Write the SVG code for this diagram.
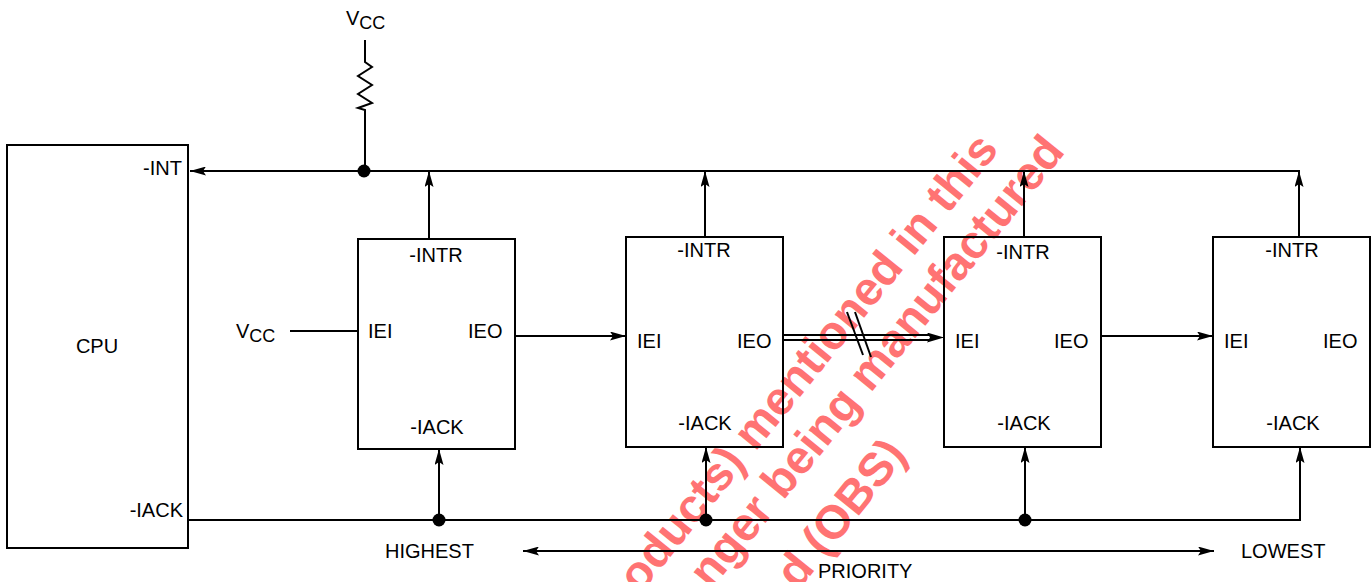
<svg xmlns="http://www.w3.org/2000/svg" width="1372" height="582" viewBox="0 0 1372 582">
<style>
.box{fill:none;stroke:#000;stroke-width:2}
.ln{fill:none;stroke:#000;stroke-width:2}
.t{font-family:"Liberation Sans",Arial,Helvetica,sans-serif;font-size:20px;fill:#000}
.sub{font-size:18px}
.wm{font-family:"Liberation Sans",Arial,Helvetica,sans-serif;font-weight:bold;font-size:47px;fill:#ff7373}
.dot{fill:#000}
</style>
<defs>
<marker id="ah" viewBox="0 0 16 9" refX="16" refY="4.5" markerWidth="16" markerHeight="9" markerUnits="userSpaceOnUse" orient="auto-start-reverse">
<path d="M0,0 L16,4.5 L0,9 L3,4.5 Z" fill="#000"/>
</marker>
<marker id="ahb" viewBox="0 0 17 10" refX="17" refY="5" markerWidth="17" markerHeight="10" markerUnits="userSpaceOnUse" orient="auto">
<path d="M0,0 L17,5 L0,10 L3,5 Z" fill="#000"/>
</marker>
</defs>
<rect width="1372" height="582" fill="#fff"/>
<g id="watermark">
<text class="wm" text-anchor="end" x="1000" y="150" transform="rotate(-51 1000 150)">oducts) mentioned in this</text>
<text class="wm" text-anchor="end" x="1066" y="152" transform="rotate(-51 1066 152)">nger being manufactured</text>
<text class="wm" text-anchor="end" x="908" y="455" transform="rotate(-51 908 455)">d (OBS)</text>
</g>
<g id="connectors">
<line class="ln" x1="1299" y1="171" x2="190" y2="171" marker-end="url(#ah)"/>
<line class="ln" x1="429" y1="239" x2="429" y2="171" marker-end="url(#ah)"/>
<line class="ln" x1="705" y1="237" x2="705" y2="171" marker-end="url(#ah)"/>
<line class="ln" x1="1024" y1="237" x2="1024" y2="171" marker-end="url(#ah)"/>
<line class="ln" x1="1299" y1="237" x2="1299" y2="170"/>
<line class="ln" x1="1299" y1="237" x2="1299" y2="171" marker-end="url(#ah)"/>
<line class="ln" x1="188" y1="520" x2="1300" y2="520"/>
<line class="ln" x1="439" y1="520" x2="439" y2="449" marker-end="url(#ah)"/>
<line class="ln" x1="706" y1="520" x2="706" y2="447" marker-end="url(#ah)"/>
<line class="ln" x1="1025" y1="520" x2="1025" y2="447" marker-end="url(#ah)"/>
<line class="ln" x1="1300" y1="521" x2="1300" y2="447" marker-end="url(#ah)"/>
<circle class="dot" cx="364" cy="171" r="6.5"/>
<circle class="dot" cx="439" cy="520" r="6.5"/>
<circle class="dot" cx="706" cy="520" r="6.5"/>
<circle class="dot" cx="1025" cy="520" r="6.5"/>
<line class="ln" x1="515" y1="336" x2="626" y2="336" marker-end="url(#ah)"/>
<line class="ln" x1="1101" y1="336" x2="1213" y2="336" marker-end="url(#ah)"/>
<line class="ln" x1="783" y1="335" x2="932" y2="335"/>
<line class="ln" x1="783" y1="340" x2="932" y2="340"/>
<line x1="930" y1="337.5" x2="944" y2="337.5" stroke="#000" stroke-width="1" marker-end="url(#ahb)"/>
<line class="ln" x1="847" y1="312" x2="863" y2="355"/>
<line class="ln" x1="855" y1="312" x2="871" y2="357"/>
<line class="ln" x1="290" y1="331" x2="358" y2="331"/>
<line class="ln" x1="523" y1="551" x2="1214" y2="551" marker-start="url(#ah)" marker-end="url(#ah)"/>
</g>
<g id="vcc-pullup">
<text class="t" x="346" y="25">V<tspan class="sub" dy="4">CC</tspan></text>
<polyline class="ln" points="365,40 365,62 372,67 358,76 372,85 358,94 372,103 358,108 365,110 365,171"/>
</g>
<g id="vcc-iei">
<text class="t" x="236" y="338">V<tspan class="sub" dy="4">CC</tspan></text>
</g>
<g id="cpu">
<rect class="box" x="7" y="145" width="181" height="403"/>
<text class="t" x="97" y="353" text-anchor="middle">CPU</text>
<text class="t" x="182" y="175" text-anchor="end">-INT</text>
<text class="t" x="183" y="517" text-anchor="end">-IACK</text>
</g>
<g id="dev1">
<rect class="box" x="358" y="239" width="157" height="210"/>
<text class="t" x="436" y="262" text-anchor="middle">-INTR</text>
<text class="t" x="368" y="338">IEI</text>
<text class="t" x="468" y="338">IEO</text>
<text class="t" x="437" y="434" text-anchor="middle">-IACK</text>
</g>
<g id="dev2">
<rect class="box" x="626" y="237" width="157" height="210"/>
<text class="t" x="704" y="257" text-anchor="middle">-INTR</text>
<text class="t" x="637" y="348">IEI</text>
<text class="t" x="737" y="348">IEO</text>
<text class="t" x="705" y="430" text-anchor="middle">-IACK</text>
</g>
<g id="dev3">
<rect class="box" x="944" y="237" width="157" height="210"/>
<text class="t" x="1023" y="259" text-anchor="middle">-INTR</text>
<text class="t" x="955" y="348">IEI</text>
<text class="t" x="1054" y="348">IEO</text>
<text class="t" x="1024" y="430" text-anchor="middle">-IACK</text>
</g>
<g id="dev4">
<rect class="box" x="1213" y="237" width="157" height="210"/>
<text class="t" x="1292" y="257" text-anchor="middle">-INTR</text>
<text class="t" x="1224" y="348">IEI</text>
<text class="t" x="1323" y="348">IEO</text>
<text class="t" x="1293" y="430" text-anchor="middle">-IACK</text>
</g>
<g id="priority">
<text class="t" x="385" y="558">HIGHEST</text>
<text class="t" x="1241" y="558">LOWEST</text>
<text class="t" x="818" y="578">PRIORITY</text>
</g>
</svg>
